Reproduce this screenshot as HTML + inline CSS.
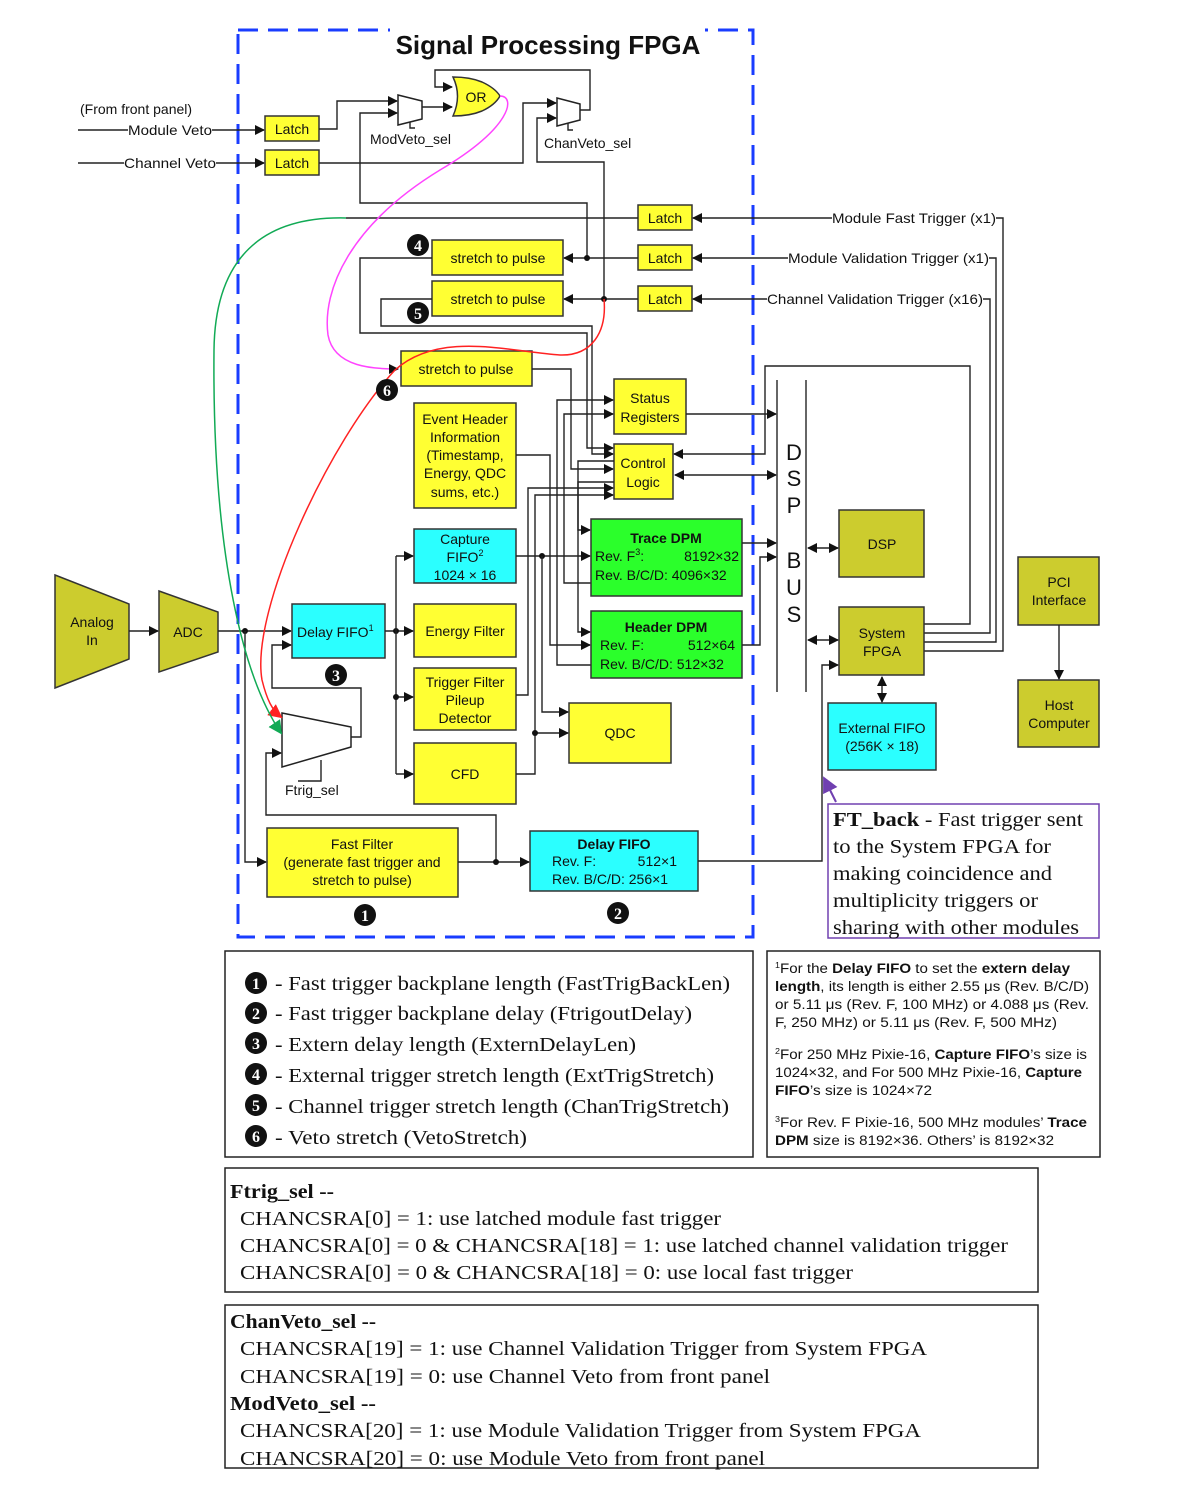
<!DOCTYPE html>
<html><head><meta charset="utf-8"><style>
html,body{margin:0;padding:0;background:#fff}
svg{display:block}
text{font-family:"Liberation Sans",sans-serif;fill:#111}
.s{font-family:"Liberation Serif",serif}
.b{fill:none;stroke:#222;stroke-width:1.5}
.y{fill:#ffff33;stroke:#333;stroke-width:1.5}
.c{fill:#2bffff;stroke:#333;stroke-width:1.5}
.g{fill:#2bff2b;stroke:#333;stroke-width:1.5}
.o{fill:#cccc2e;stroke:#333;stroke-width:1.5}
.l{fill:none;stroke:#222;stroke-width:1.4}
</style></head><body>
<svg width="1198" height="1488" viewBox="0 0 1198 1488" xmlns="http://www.w3.org/2000/svg">
<defs>
<marker id="a" markerWidth="10" markerHeight="10" refX="9" refY="5" orient="auto" markerUnits="userSpaceOnUse"><path d="M0,0 L10,5 L0,10 Z" fill="#111"/></marker>
<marker id="as" markerWidth="10" markerHeight="10" refX="1" refY="5" orient="auto" markerUnits="userSpaceOnUse"><path d="M10,0 L0,5 L10,10 Z" fill="#111"/></marker>
<marker id="ar" markerWidth="14" markerHeight="14" refX="12" refY="7" orient="auto" markerUnits="userSpaceOnUse"><path d="M0,0 L14,7 L0,14 Z" fill="#f22"/></marker>
<marker id="ag" markerWidth="14" markerHeight="14" refX="12" refY="7" orient="auto" markerUnits="userSpaceOnUse"><path d="M0,0 L14,7 L0,14 Z" fill="#1a5"/></marker>
<marker id="ap" markerWidth="16" markerHeight="16" refX="14" refY="8" orient="auto" markerUnits="userSpaceOnUse"><path d="M0,0 L16,8 L0,16 Z" fill="#7040b0"/></marker>
</defs>

<rect x="238" y="30" width="515" height="907" fill="none" stroke="#1a3cff" stroke-width="3" stroke-dasharray="20,10"/>
<rect x="390" y="22" width="315" height="20" fill="#fff"/>
<text x="548" y="54" font-size="26" font-weight="bold" text-anchor="middle">Signal Processing FPGA</text>

<text x="80" y="114" font-size="14">(From front panel)</text>
<line x1="78" y1="130" x2="264" y2="130" class="l" marker-end="url(#a)"/>
<rect x="128" y="122" width="84" height="16" fill="#fff"/>
<text x="128" y="135" font-size="14" textLength="84" lengthAdjust="spacingAndGlyphs">Module Veto</text>
<line x1="78" y1="163" x2="264" y2="163" class="l" marker-end="url(#a)"/>
<rect x="124" y="155" width="92" height="16" fill="#fff"/>
<text x="124" y="168" font-size="14" textLength="92" lengthAdjust="spacingAndGlyphs">Channel Veto</text>
<rect x="265" y="116" width="54" height="25" class="y"/><text x="292" y="134" font-size="14" text-anchor="middle">Latch</text>
<rect x="265" y="150" width="54" height="25" class="y"/><text x="292" y="168" font-size="14" text-anchor="middle">Latch</text>

<polyline points="319,129 337,129 337,101 397,101" class="l" marker-end="url(#a)"/>
<polyline points="587,258 587,203 360,203 360,113 397,113" class="l" marker-end="url(#a)"/>
<polygon points="398,95 422,101 422,119 398,125" fill="#fff" stroke="#222" stroke-width="1.5"/>
<polyline points="410,122 410,128 415,128" class="l"/>
<text x="370" y="144" font-size="14">ModVeto_sel</text>
<line x1="422" y1="107" x2="452" y2="107" class="l" marker-end="url(#a)"/>
<path d="M453,77 Q470,77 482,82 Q495,88 500,96 Q495,105 482,111 Q470,116 453,116 Q462,96 453,77 Z" fill="#ffff33" stroke="#333" stroke-width="1.5"/>
<text x="476" y="102" font-size="14" text-anchor="middle">OR</text>
<polyline points="580,110 590,110 590,70 435,70 435,87 452,87" class="l" marker-end="url(#a)"/>
<polyline points="319,163 523,163 523,103 556,103" class="l" marker-end="url(#a)"/>
<polyline points="604,299 604,162 537,162 537,118 556,118" class="l" marker-end="url(#a)"/>
<polygon points="557,98 580,104 580,120 557,126" fill="#fff" stroke="#222" stroke-width="1.5"/>
<polyline points="568,123 568,130 573,130" class="l"/>
<text x="544" y="148" font-size="14">ChanVeto_sel</text>

<rect x="638" y="205" width="54" height="25" class="y"/><text x="665" y="223" font-size="14" text-anchor="middle">Latch</text>
<rect x="638" y="245" width="54" height="25" class="y"/><text x="665" y="263" font-size="14" text-anchor="middle">Latch</text>
<rect x="638" y="286" width="54" height="25" class="y"/><text x="665" y="304" font-size="14" text-anchor="middle">Latch</text>
<line x1="832" y1="218" x2="693" y2="218" class="l" marker-end="url(#a)"/>
<line x1="788" y1="258" x2="693" y2="258" class="l" marker-end="url(#a)"/>
<line x1="767" y1="299" x2="693" y2="299" class="l" marker-end="url(#a)"/>
<text x="832" y="223" font-size="14" textLength="164" lengthAdjust="spacingAndGlyphs">Module Fast Trigger (x1)</text>
<text x="788" y="263" font-size="14" textLength="201" lengthAdjust="spacingAndGlyphs">Module Validation Trigger (x1)</text>
<text x="767" y="304" font-size="14" textLength="216" lengthAdjust="spacingAndGlyphs">Channel Validation Trigger (x16)</text>
<polyline points="996,218 1003,218 1003,651 924,651" class="l"/>
<polyline points="989,258 996,258 996,642 924,642" class="l"/>
<polyline points="983,299 990,299 990,633 924,633" class="l"/>
<polyline points="924,624 970,624 970,366 765,366 765,454 674,454" class="l" marker-end="url(#a)"/>

<line x1="638" y1="218" x2="346" y2="218" class="l"/>
<line x1="638" y1="258" x2="564" y2="258" class="l" marker-end="url(#a)"/>
<line x1="638" y1="299" x2="564" y2="299" class="l" marker-end="url(#a)"/>
<circle cx="587" cy="258" r="3" fill="#111"/>
<circle cx="604" cy="299" r="3" fill="#111"/>

<rect x="432" y="240" width="131" height="35" class="y"/><text x="498" y="263" font-size="14" text-anchor="middle">stretch to pulse</text>
<rect x="432" y="281" width="131" height="35" class="y"/><text x="498" y="304" font-size="14" text-anchor="middle">stretch to pulse</text>
<rect x="401" y="351" width="131" height="35" class="y"/><text x="466" y="374" font-size="14" text-anchor="middle">stretch to pulse</text>
<polyline points="432,258 360,258 360,333 587,333 587,448 613,448" class="l" marker-end="url(#a)"/>
<polyline points="432,299 381,299 381,326 592,326 592,441 592,454 613,454" class="l" marker-end="url(#a)"/>
<polyline points="532,369 571,369 571,469 613,469" class="l" marker-end="url(#a)"/>

<rect x="614" y="379" width="72" height="55" class="y"/><text x="650" y="403" font-size="14" text-anchor="middle">Status</text><text x="650" y="422" font-size="14" text-anchor="middle">Registers</text>
<rect x="614" y="444" width="59" height="55" class="y"/><text x="643" y="468" font-size="14" text-anchor="middle">Control</text><text x="643" y="487" font-size="14" text-anchor="middle">Logic</text>
<line x1="686" y1="414" x2="776" y2="414" class="l" marker-end="url(#a)"/>
<line x1="675" y1="475" x2="776" y2="475" class="l" marker-end="url(#a)" marker-start="url(#as)"/>

<rect x="414" y="403" width="102" height="105" class="y"/>
<text x="465" y="424" font-size="14" text-anchor="middle">Event Header</text>
<text x="465" y="442" font-size="14" text-anchor="middle">Information</text>
<text x="465" y="460" font-size="14" text-anchor="middle">(Timestamp,</text>
<text x="465" y="478" font-size="14" text-anchor="middle">Energy, QDC</text>
<text x="465" y="497" font-size="14" text-anchor="middle">sums, etc.)</text>
<polyline points="516,455 550,455 550,645 590,645" class="l" marker-end="url(#a)"/>
<polyline points="591,665 557,665 557,400 613,400" class="l" marker-end="url(#a)"/>
<polyline points="591,583 564,583 564,414 613,414" class="l" marker-end="url(#a)"/>
<polyline points="614,461 578,461 578,632 590,632" class="l" marker-end="url(#a)"/>
<polyline points="614,482 578,482 578,530 590,530" class="l" marker-end="url(#a)"/>

<rect x="414" y="529" width="102" height="54" class="c"/>
<text x="465" y="544" font-size="14" text-anchor="middle">Capture</text>
<text x="465" y="562" font-size="14" text-anchor="middle">FIFO<tspan font-size="9" dy="-6">2</tspan></text>
<text x="465" y="580" font-size="14" text-anchor="middle">1024 × 16</text>
<rect x="414" y="604" width="102" height="53" class="y"/><text x="465" y="636" font-size="14" text-anchor="middle">Energy Filter</text>
<rect x="414" y="668" width="102" height="62" class="y"/>
<text x="465" y="687" font-size="14" text-anchor="middle">Trigger Filter</text>
<text x="465" y="705" font-size="14" text-anchor="middle">Pileup</text>
<text x="465" y="723" font-size="14" text-anchor="middle">Detector</text>
<rect x="414" y="743" width="102" height="61" class="y"/><text x="465" y="779" font-size="14" text-anchor="middle">CFD</text>
<rect x="569" y="703" width="102" height="60" class="y"/><text x="620" y="738" font-size="14" text-anchor="middle">QDC</text>
<polyline points="516,556 590,556" class="l" marker-end="url(#a)"/>
<circle cx="542" cy="556" r="3" fill="#111"/>
<polyline points="542,556 542,712 568,712" class="l" marker-end="url(#a)"/>
<polyline points="516,695 528,695 528,488 613,488" class="l" marker-end="url(#a)"/>
<polyline points="516,774 535,774 535,495 613,495" class="l" marker-end="url(#a)"/>
<line x1="535" y1="733" x2="568" y2="733" class="l" marker-end="url(#a)"/>
<circle cx="535" cy="733" r="3" fill="#111"/>

<rect x="591" y="519" width="151" height="77" class="g"/>
<text x="666" y="543" font-size="14" font-weight="bold" text-anchor="middle">Trace DPM</text>
<text x="595" y="561" font-size="14">Rev. F<tspan font-size="9" dy="-6">3</tspan><tspan dy="6">:</tspan></text>
<text x="739" y="561" font-size="14" text-anchor="end">8192×32</text>
<text x="595" y="580" font-size="14">Rev. B/C/D: 4096×32</text>
<rect x="591" y="611" width="151" height="67" class="g"/>
<text x="666" y="632" font-size="14" font-weight="bold" text-anchor="middle">Header DPM</text>
<text x="600" y="650" font-size="14">Rev. F:</text>
<text x="735" y="650" font-size="14" text-anchor="end">512×64</text>
<text x="600" y="669" font-size="14">Rev. B/C/D: 512×32</text>
<line x1="742" y1="543" x2="776" y2="543" class="l" marker-end="url(#a)"/>
<polyline points="742,645 760,645 760,557 776,557" class="l" marker-end="url(#a)"/>

<line x1="777" y1="380" x2="777" y2="692" stroke="#333" stroke-width="1.5"/>
<line x1="806" y1="380" x2="806" y2="692" stroke="#333" stroke-width="1.5"/>
<g font-size="22" text-anchor="middle"><text x="794" y="460">D</text><text x="794" y="486">S</text><text x="794" y="513">P</text><text x="794" y="568">B</text><text x="794" y="595">U</text><text x="794" y="622">S</text></g>
<rect x="839" y="510" width="85" height="67" class="o"/><text x="882" y="549" font-size="14" text-anchor="middle">DSP</text>
<rect x="839" y="607" width="85" height="68" class="o"/><text x="882" y="638" font-size="14" text-anchor="middle">System</text><text x="882" y="656" font-size="14" text-anchor="middle">FPGA</text>
<line x1="808" y1="548" x2="838" y2="548" class="l" marker-end="url(#a)" marker-start="url(#as)"/>
<line x1="808" y1="640" x2="838" y2="640" class="l" marker-end="url(#a)" marker-start="url(#as)"/>
<line x1="882" y1="677" x2="882" y2="702" class="l" marker-end="url(#a)" marker-start="url(#as)"/>
<rect x="828" y="703" width="108" height="67" class="c"/><text x="882" y="733" font-size="14" text-anchor="middle">External FIFO</text><text x="882" y="751" font-size="14" text-anchor="middle">(256K × 18)</text>
<rect x="1018" y="557" width="81" height="68" class="o"/><text x="1059" y="587" font-size="14" text-anchor="middle">PCI</text><text x="1059" y="605" font-size="14" text-anchor="middle">Interface</text>
<rect x="1018" y="680" width="81" height="67" class="o"/><text x="1059" y="710" font-size="14" text-anchor="middle">Host</text><text x="1059" y="728" font-size="14" text-anchor="middle">Computer</text>
<line x1="1059" y1="625" x2="1059" y2="679" class="l" marker-end="url(#a)"/>

<polygon points="55,575 129,604 129,659 55,688" class="o"/>
<text x="92" y="627" font-size="14" text-anchor="middle">Analog</text><text x="92" y="645" font-size="14" text-anchor="middle">In</text>
<polygon points="159,591 218,612 218,652 159,672" class="o"/>
<text x="188" y="637" font-size="14" text-anchor="middle">ADC</text>
<line x1="129" y1="631" x2="158" y2="631" class="l" marker-end="url(#a)"/>
<line x1="218" y1="631" x2="291" y2="631" class="l" marker-end="url(#a)"/>
<circle cx="245" cy="631" r="3" fill="#111"/>
<polyline points="245,631 245,862 266,862" class="l" marker-end="url(#a)"/>

<rect x="292" y="604" width="93" height="54" class="c"/>
<text x="297" y="637" font-size="14">Delay FIFO<tspan font-size="9" dy="-6">1</tspan></text>
<polyline points="351,737 361,737 361,688 272,688 272,645 291,645" class="l" marker-end="url(#a)"/>
<polygon points="282,713 351,727 351,747 282,767" fill="#fff" stroke="#222" stroke-width="1.5"/>
<polyline points="496,862 496,815 266,815 266,753 281,753" class="l" marker-end="url(#a)"/>
<polyline points="321,760 321,781 298,781" class="l"/>
<text x="285" y="795" font-size="14">Ftrig_sel</text>
<line x1="385" y1="631" x2="413" y2="631" class="l" marker-end="url(#a)"/>
<circle cx="396" cy="631" r="3" fill="#111"/>
<polyline points="396,556 396,774" class="l"/>
<line x1="396" y1="556" x2="413" y2="556" class="l" marker-end="url(#a)"/>
<line x1="396" y1="697" x2="413" y2="697" class="l" marker-end="url(#a)"/>
<circle cx="396" cy="697" r="3" fill="#111"/>
<line x1="396" y1="774" x2="413" y2="774" class="l" marker-end="url(#a)"/>

<rect x="267" y="828" width="191" height="69" class="y"/>
<text x="362" y="849" font-size="14" text-anchor="middle">Fast Filter</text>
<text x="362" y="867" font-size="14" text-anchor="middle">(generate fast trigger and</text>
<text x="362" y="885" font-size="14" text-anchor="middle">stretch to pulse)</text>
<line x1="458" y1="862" x2="529" y2="862" class="l" marker-end="url(#a)"/>
<circle cx="496" cy="862" r="3" fill="#111"/>
<rect x="530" y="831" width="168" height="60" class="c"/>
<text x="614" y="849" font-size="14" font-weight="bold" text-anchor="middle">Delay FIFO</text>
<text x="552" y="866" font-size="14">Rev. F:</text><text x="677" y="866" font-size="14" text-anchor="end">512×1</text>
<text x="552" y="884" font-size="14">Rev. B/C/D: 256×1</text>
<polyline points="698,861 822,861 822,665 838,665" class="l" marker-end="url(#a)"/>

<path d="M500,96 C516,96 512,128 440,170 C350,225 322,290 328,335 C334,368 375,369 398,369" fill="none" stroke="#f4f" stroke-width="1.5" marker-end="url(#a)"/>
<path d="M604,299 C607,332 592,356 560,355 C510,352 440,330 395,370 C330,440 250,610 262,680 C267,700 272,710 281,717" fill="none" stroke="#f22" stroke-width="1.5" marker-end="url(#ar)"/>
<path d="M346,218 C262,216 215,258 214,350 C212,560 245,680 281,733" fill="none" stroke="#1a5" stroke-width="1.5" marker-end="url(#ag)"/>

<g font-size="16" font-weight="bold" text-anchor="middle">
<circle cx="418" cy="245" r="11" fill="#111"/><text x="418" y="251" style="fill:#fff" class="s">4</text>
<circle cx="418" cy="313" r="11" fill="#111"/><text x="418" y="319" style="fill:#fff" class="s">5</text>
<circle cx="387" cy="390" r="11" fill="#111"/><text x="387" y="396" style="fill:#fff" class="s">6</text>
<circle cx="336" cy="675" r="11" fill="#111"/><text x="336" y="681" style="fill:#fff" class="s">3</text>
<circle cx="365" cy="915" r="11" fill="#111"/><text x="365" y="921" style="fill:#fff" class="s">1</text>
<circle cx="618" cy="913" r="11" fill="#111"/><text x="618" y="919" style="fill:#fff" class="s">2</text>
</g>

<line x1="836" y1="802" x2="824" y2="778" stroke="#7040b0" stroke-width="2" marker-end="url(#ap)"/>
<rect x="828" y="804" width="271" height="134" fill="#fff" stroke="#7040b0" stroke-width="1.5"/>
<g font-size="20">
<text x="833" y="826" class="s" textLength="250" lengthAdjust="spacingAndGlyphs"><tspan font-weight="bold">FT_back</tspan> - Fast trigger sent</text>
<text x="833" y="853" class="s" textLength="218" lengthAdjust="spacingAndGlyphs">to the System FPGA for</text>
<text x="833" y="880" class="s" textLength="219" lengthAdjust="spacingAndGlyphs">making coincidence and</text>
<text x="833" y="907" class="s" textLength="205" lengthAdjust="spacingAndGlyphs">multiplicity triggers or</text>
<text x="833" y="934" class="s" textLength="246" lengthAdjust="spacingAndGlyphs">sharing with other modules</text>
</g>

<rect x="225" y="951" width="528" height="206" fill="none" stroke="#222" stroke-width="1.5"/>
<g font-size="20">
<circle cx="256" cy="983" r="11" fill="#111"/><text x="256" y="989" text-anchor="middle" font-size="16" font-weight="bold" class="s" style="fill:#fff">1</text>
<text x="275" y="990" class="s" textLength="455" lengthAdjust="spacingAndGlyphs">- Fast trigger backplane length (FastTrigBackLen)</text>
<circle cx="256" cy="1013" r="11" fill="#111"/><text x="256" y="1019" text-anchor="middle" font-size="16" font-weight="bold" class="s" style="fill:#fff">2</text>
<text x="275" y="1020" class="s" textLength="417" lengthAdjust="spacingAndGlyphs">- Fast trigger backplane delay (FtrigoutDelay)</text>
<circle cx="256" cy="1043" r="11" fill="#111"/><text x="256" y="1049" text-anchor="middle" font-size="16" font-weight="bold" class="s" style="fill:#fff">3</text>
<text x="275" y="1051" class="s" textLength="361" lengthAdjust="spacingAndGlyphs">- Extern delay length (ExternDelayLen)</text>
<circle cx="256" cy="1074" r="11" fill="#111"/><text x="256" y="1080" text-anchor="middle" font-size="16" font-weight="bold" class="s" style="fill:#fff">4</text>
<text x="275" y="1082" class="s" textLength="439" lengthAdjust="spacingAndGlyphs">- External trigger stretch length (ExtTrigStretch)</text>
<circle cx="256" cy="1105" r="11" fill="#111"/><text x="256" y="1111" text-anchor="middle" font-size="16" font-weight="bold" class="s" style="fill:#fff">5</text>
<text x="275" y="1113" class="s" textLength="454" lengthAdjust="spacingAndGlyphs">- Channel trigger stretch length (ChanTrigStretch)</text>
<circle cx="256" cy="1136" r="11" fill="#111"/><text x="256" y="1142" text-anchor="middle" font-size="16" font-weight="bold" class="s" style="fill:#fff">6</text>
<text x="275" y="1144" class="s" textLength="252" lengthAdjust="spacingAndGlyphs">- Veto stretch (VetoStretch)</text>
</g>

<rect x="767" y="951" width="333" height="206" fill="none" stroke="#222" stroke-width="1.5"/>
<g font-size="13.5">
<text x="775" y="973" textLength="295" lengthAdjust="spacingAndGlyphs"><tspan font-size="8" dy="-5">1</tspan><tspan dy="5">For the </tspan><tspan font-weight="bold">Delay FIFO</tspan> to set the <tspan font-weight="bold">extern delay</tspan></text>
<text x="775" y="991" textLength="314" lengthAdjust="spacingAndGlyphs"><tspan font-weight="bold">length</tspan>, its length is either 2.55 μs (Rev. B/C/D)</text>
<text x="775" y="1009" textLength="314" lengthAdjust="spacingAndGlyphs">or 5.11 μs (Rev. F, 100 MHz) or 4.088 μs (Rev.</text>
<text x="775" y="1027" textLength="282" lengthAdjust="spacingAndGlyphs">F, 250 MHz) or 5.11 μs (Rev. F, 500 MHz)</text>
<text x="775" y="1059" textLength="312" lengthAdjust="spacingAndGlyphs"><tspan font-size="8" dy="-5">2</tspan><tspan dy="5">For 250 MHz Pixie-16, </tspan><tspan font-weight="bold">Capture FIFO</tspan>’s size is</text>
<text x="775" y="1077" textLength="307" lengthAdjust="spacingAndGlyphs">1024×32, and For 500 MHz Pixie-16, <tspan font-weight="bold">Capture</tspan></text>
<text x="775" y="1095" textLength="157" lengthAdjust="spacingAndGlyphs"><tspan font-weight="bold">FIFO</tspan>’s size is 1024×72</text>
<text x="775" y="1127" textLength="312" lengthAdjust="spacingAndGlyphs"><tspan font-size="8" dy="-5">3</tspan><tspan dy="5">For Rev. F Pixie-16, 500 MHz modules’ </tspan><tspan font-weight="bold">Trace</tspan></text>
<text x="775" y="1145" textLength="279" lengthAdjust="spacingAndGlyphs"><tspan font-weight="bold">DPM</tspan> size is 8192×36. Others’ is 8192×32</text>
</g>

<rect x="225" y="1168" width="813" height="124" fill="none" stroke="#222" stroke-width="1.5"/>
<g font-size="20">
<text x="230" y="1198" class="s" font-weight="bold" textLength="104" lengthAdjust="spacingAndGlyphs">Ftrig_sel --</text>
<text x="240" y="1225" class="s" textLength="481" lengthAdjust="spacingAndGlyphs">CHANCSRA[0] = 1:  use latched module fast trigger</text>
<text x="240" y="1252" class="s" textLength="768" lengthAdjust="spacingAndGlyphs">CHANCSRA[0] = 0 &amp; CHANCSRA[18] = 1:  use latched channel validation trigger</text>
<text x="240" y="1279" class="s" textLength="613" lengthAdjust="spacingAndGlyphs">CHANCSRA[0] = 0 &amp; CHANCSRA[18] = 0:  use local fast trigger</text>
</g>

<rect x="225" y="1305" width="813" height="163" fill="none" stroke="#222" stroke-width="1.5"/>
<g font-size="20">
<text x="230" y="1328" class="s" font-weight="bold" textLength="146" lengthAdjust="spacingAndGlyphs">ChanVeto_sel --</text>
<text x="240" y="1355" class="s" textLength="687" lengthAdjust="spacingAndGlyphs">CHANCSRA[19] = 1:  use Channel Validation Trigger from System FPGA</text>
<text x="240" y="1383" class="s" textLength="530" lengthAdjust="spacingAndGlyphs">CHANCSRA[19] = 0:  use Channel Veto from front panel</text>
<text x="230" y="1410" class="s" font-weight="bold" textLength="146" lengthAdjust="spacingAndGlyphs">ModVeto_sel --</text>
<text x="240" y="1437" class="s" textLength="681" lengthAdjust="spacingAndGlyphs">CHANCSRA[20] = 1:  use Module Validation Trigger from System FPGA</text>
<text x="240" y="1465" class="s" textLength="525" lengthAdjust="spacingAndGlyphs">CHANCSRA[20] = 0:  use Module Veto from front panel</text>
</g>
</svg>
</body></html>
